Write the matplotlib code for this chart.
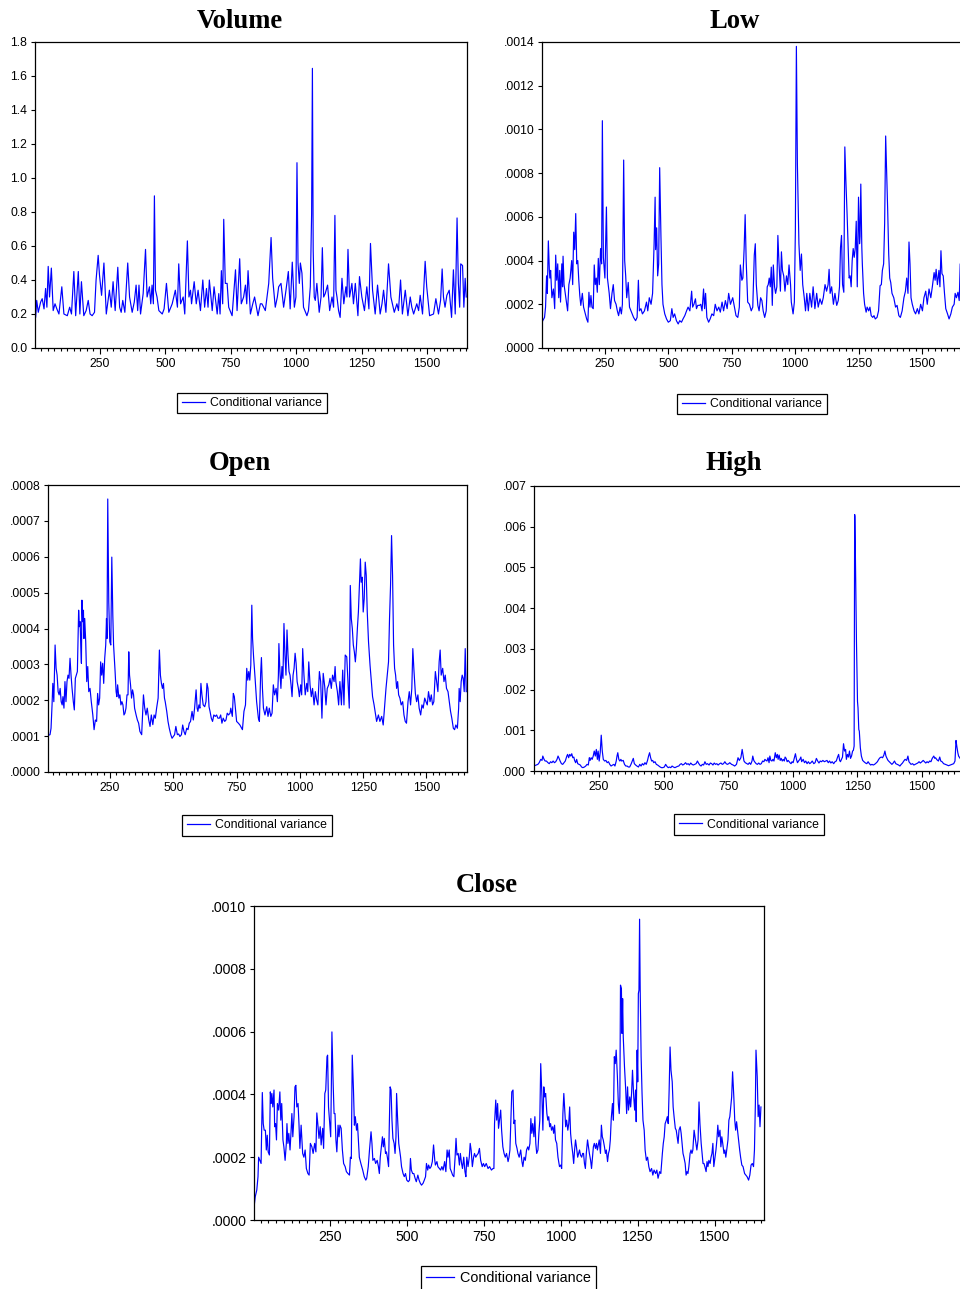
import matplotlib
matplotlib.use('Agg')
import matplotlib.pyplot as plt
import numpy as np
from matplotlib.ticker import FixedLocator, MultipleLocator, FuncFormatter

vol_t = [1, 4, 8, 14, 23, 29, 36, 42, 47, 52, 57, 64, 71, 78, 85, 93, 104, 112, 125, 134, 141, 150, 157, 167, 173,
         179, 188, 197, 205, 212, 220, 229, 235, 243, 248, 256, 265, 274, 280, 286, 293, 300, 308, 318, 325, 331, 337,
         345, 356, 363, 373, 381, 388, 394, 399, 405, 415, 424, 430, 439, 444, 449, 454, 458, 462, 468, 475, 488, 495,
         504, 513, 526, 538, 546, 551, 558, 568, 574, 584, 590, 596, 600, 610, 618, 625, 634, 643, 650, 657, 663, 668,
         679, 686, 698, 704, 709, 714, 719, 723, 729, 736, 742, 755, 768, 774, 784, 790, 799, 806, 811, 816, 825, 834,
         841, 854, 863, 869, 882, 895, 904, 910, 920, 928, 933, 942, 952, 961, 970, 977, 985, 993, 999, 1003, 1007,
         1012, 1016, 1022, 1028, 1041, 1047, 1054, 1059, 1062, 1065, 1069, 1073, 1079, 1088, 1095, 1100, 1105, 1111,
         1120, 1128, 1137, 1143, 1148, 1152, 1156, 1162, 1168, 1175, 1182, 1190, 1194, 1198, 1204, 1213, 1219, 1226,
         1236, 1242, 1251, 1261, 1270, 1278, 1284, 1292, 1302, 1311, 1321, 1328, 1334, 1343, 1353, 1362, 1375, 1385,
         1391, 1399, 1406, 1417, 1427, 1436, 1442, 1449, 1461, 1468, 1474, 1483, 1493, 1499, 1510, 1525, 1534, 1544,
         1552, 1558, 1563, 1569, 1576, 1585, 1594, 1601, 1608, 1615, 1620, 1625, 1629, 1636, 1641, 1646, 1650]
vol_v = [.22, .18, .28, .21, .27, .29, .23, .35, .24, .48, .30, .47, .22, .26, .23, .20, .36, .20, .19, .24, .20, .45,
         .19, .45, .20, .39, .19, .22, .28, .20, .19, .21, .40, .545, .43, .31, .50, .20, .27, .34, .24, .39, .22, .475,
         .24, .21, .28, .21, .50, .30, .21, .27, .37, .22, .37, .20, .32, .58, .30, .36, .26, .37, .26, .895, .34, .30,
         .22, .20, .23, .38, .21, .26, .34, .24, .495, .26, .30, .20, .63, .30, .34, .26, .39, .26, .34, .22, .40, .24,
         .35, .24, .40, .22, .36, .20, .32, .20, .455, .26, .757, .38, .38, .24, .19, .46, .22, .525, .26, .30, .37,
         .26, .455, .20, .26, .30, .19, .26, .26, .22, .38, .65, .41, .24, .30, .36, .38, .24, .34, .45, .23, .505,
         .24, .30, 1.09, .50, .38, .50, .44, .24, .19, .22, .36, .79, 1.645, .575, .30, .28, .38, .21, .30, .59, .30,
         .32, .37, .22, .30, .24, .78, .34, .30, .22, .18, .41, .26, .36, .30, .58, .30, .38, .26, .38, .19, .42, .30,
         .22, .36, .23, .615, .34, .20, .37, .20, .26, .34, .21, .495, .30, .21, .26, .22, .40, .20, .34, .19, .30,
         .24, .20, .26, .22, .31, .20, .51, .36, .19, .20, .29, .20, .28, .465, .30, .24, .31, .34, .18, .46, .20,
         .765, .38, .24, .495, .485, .24, .41, .30]

# Low, Open, High, Close values are in units of 1e-4
low_t = [0, 5, 12, 16, 20, 23, 27, 31, 33, 36, 41, 47, 52, 56, 60, 64, 68, 72, 75, 80, 83, 85, 89, 96, 103, 108, 113,
         119, 123, 127, 131, 135, 139, 143, 147, 151, 155, 161, 166, 173, 178, 183, 187, 191, 195, 199, 204, 208, 212,
         216, 220, 224, 228, 233, 237, 240, 244, 250, 256, 260, 267, 272, 278, 283, 288, 294, 299, 304, 310, 315, 319,
         324, 328, 332, 336, 342, 347, 355, 363, 371, 377, 382, 386, 392, 398, 406, 414, 419, 425, 432, 438, 444, 448,
         450, 454, 458, 462, 466, 471, 475, 479, 486, 493, 500, 508, 514, 519, 525, 532, 539, 545, 552, 558, 565, 572,
         578, 585, 592, 596, 601, 607, 611, 616, 623, 628, 633, 639, 643, 647, 652, 659, 665, 672, 679, 685, 692, 699,
         705, 712, 718, 725, 732, 738, 745, 754, 761, 767, 774, 780, 784, 790, 794, 799, 803, 807, 813, 820, 827, 833,
         839, 843, 847, 853, 858, 864, 869, 874, 880, 886, 890, 894, 898, 902, 906, 910, 914, 919, 923, 928, 932, 936,
         942, 946, 950, 955, 960, 966, 971, 976, 982, 985, 992, 997, 1001, 1005, 1009, 1015, 1020, 1025, 1030, 1036,
         1041, 1046, 1052, 1058, 1065, 1071, 1078, 1085, 1091, 1098, 1105, 1111, 1118, 1124, 1130, 1134, 1138, 1144,
         1151, 1157, 1164, 1170, 1175, 1179, 1183, 1187, 1192, 1196, 1200, 1205, 1209, 1213, 1217, 1221, 1225, 1229,
         1233, 1237, 1241, 1245, 1250, 1254, 1256, 1259, 1263, 1265, 1270, 1274, 1280, 1284, 1290, 1295, 1300, 1306,
         1311, 1316, 1323, 1329, 1335, 1340, 1344, 1349, 1353, 1357, 1361, 1365, 1369, 1373, 1377, 1382, 1389, 1396,
         1402, 1409, 1415, 1422, 1429, 1435, 1440, 1445, 1449, 1453, 1457, 1462, 1469, 1475, 1482, 1488, 1495, 1502,
         1508, 1515, 1521, 1528, 1535, 1541, 1548, 1552, 1556, 1561, 1567, 1571, 1575, 1579, 1584, 1589, 1594, 1601,
         1607, 1614, 1620, 1627, 1631, 1636, 1642, 1647, 1651, 1654]
low_v = [1.1, 1.25, 1.4, 1.87, 3.3, 2.5, 4.9, 3.55, 3.2, 3.55, 2.3, 2.7, 1.8, 4.25, 3.1, 3.85, 2.3, 3.55, 2.1, 3.85,
         2.8, 4.2, 2.9, 2.3, 1.7, 2.9, 3.2, 4.0, 2.9, 5.3, 4.5, 6.15, 3.85, 4.0, 3.1, 2.4, 1.95, 2.5, 1.87, 1.56, 1.33,
         1.18, 2.55, 1.87, 2.4, 1.87, 1.8, 3.8, 2.9, 3.2, 2.55, 4.1, 2.9, 4.55, 3.85, 10.4, 4.15, 3.2, 6.45, 3.2, 2.5,
         1.8, 2.5, 2.9, 2.17, 2.0, 1.7, 1.48, 1.87, 1.56, 2.0, 8.6, 4.0, 3.3, 2.3, 3.0, 1.87, 1.64, 1.4, 1.25, 1.4, 3.1,
         1.7, 1.8, 1.56, 1.7, 2.1, 1.7, 2.3, 2.0, 2.5, 4.77, 6.9, 4.5, 5.5, 3.3, 3.85, 8.25, 5.1, 2.9, 2.0, 1.56, 1.33,
         1.18, 1.25, 1.8, 1.4, 1.56, 1.25, 1.1, 1.25, 1.18, 1.33, 1.48, 1.7, 1.87, 1.7, 2.6, 1.87, 2.0, 2.25, 1.8, 1.95,
         1.95, 2.0, 1.7, 2.7, 1.8, 2.5, 1.4, 1.18, 1.33, 1.56, 1.48, 2.0, 1.7, 1.87, 1.64, 2.1, 1.7, 2.17, 1.8, 2.5,
         2.0, 2.3, 1.87, 1.48, 1.4, 1.87, 3.8, 3.1, 3.2, 4.55, 6.1, 4.0, 2.1, 2.0, 1.7, 1.87, 4.25, 4.77, 2.9, 1.95,
         1.7, 2.3, 2.17, 1.7, 1.4, 1.7, 2.8, 2.9, 3.2, 2.8, 3.7, 1.95, 3.8, 2.8, 2.5, 2.8, 5.15, 4.0, 2.6, 4.4, 3.55,
         3.3, 2.6, 3.3, 2.9, 3.8, 2.9, 2.1, 1.56, 2.1, 5.4, 13.8, 8.4, 4.77, 3.55, 4.3, 2.9, 2.3, 1.7, 2.5, 1.7, 2.5,
         1.87, 2.8, 1.8, 2.5, 1.87, 2.25, 2.0, 2.3, 2.9, 2.6, 2.9, 3.6, 2.5, 2.8, 2.0, 2.5, 1.95, 2.17, 2.8, 4.6, 5.15,
         2.9, 2.55, 9.2, 7.7, 6.1, 4.6, 3.2, 3.3, 2.8, 4.0, 4.55, 4.15, 4.55, 5.8, 2.8, 6.9, 4.77, 5.1, 7.5, 4.6, 3.85,
         2.5, 2.0, 1.64, 1.87, 1.7, 1.87, 1.48, 1.4, 1.48, 1.33, 1.4, 1.7, 2.85, 2.9, 3.55, 3.85, 5.7, 9.7, 8.0, 6.3,
         4.3, 3.2, 3.0, 2.5, 2.3, 1.87, 1.95, 1.48, 1.4, 1.7, 2.3, 2.6, 3.2, 2.5, 4.85, 3.85, 2.3, 2.0, 1.7, 1.56, 1.8,
         1.56, 2.0, 1.7, 2.3, 2.6, 2.0, 2.7, 2.3, 2.8, 3.45, 3.1, 3.6, 2.9, 3.55, 2.8, 4.45, 3.4, 3.3, 2.5, 1.8, 1.56,
         1.33, 1.56, 1.87, 2.0, 2.5, 2.3, 2.55, 2.17, 3.85, 2.5]

open_t = [5, 13, 17, 21, 24, 28, 33, 37, 41, 45, 49, 53, 57, 61, 64, 68, 72, 76, 80, 84, 88, 92, 96, 100, 105, 109,
          113, 117, 121, 124, 126, 129, 132, 134, 137, 139, 142, 145, 147, 150, 154, 158, 162, 166, 171, 176, 182, 187,
          192, 197, 201, 205, 209, 213, 217, 221, 225, 229, 233, 236, 238, 241, 245, 249, 253, 257, 261, 264, 270, 274,
          277, 280, 285, 289, 293, 297, 301, 305, 309, 313, 317, 321, 324, 327, 331, 335, 339, 343, 347, 353, 358, 363,
          368, 375, 382, 387, 392, 397, 403, 408, 413, 419, 424, 429, 434, 440, 445, 449, 453, 457, 461, 465, 468, 474,
          479, 484, 490, 495, 500, 505, 510, 516, 521, 526, 532, 537, 542, 547, 553, 558, 563, 568, 574, 579, 584, 590,
          594, 597, 601, 605, 609, 613, 618, 624, 629, 633, 637, 641, 645, 650, 655, 660, 666, 671, 676, 682, 687, 692,
          697, 703, 708, 713, 718, 724, 727, 733, 737, 741, 745, 750, 757, 763, 773, 779, 785, 790, 794, 798, 802, 806,
          810, 813, 817, 823, 829, 836, 840, 845, 848, 852, 856, 862, 869, 874, 879, 885, 890, 895, 900, 906, 911, 915,
          917, 921, 925, 929, 933, 937, 941, 945, 949, 953, 957, 961, 965, 969, 973, 977, 981, 985, 989, 994, 998, 1003,
          1007, 1011, 1016, 1021, 1027, 1031, 1035, 1040, 1045, 1050, 1056, 1061, 1066, 1071, 1077, 1082, 1087, 1092,
          1098, 1103, 1108, 1114, 1119, 1124, 1129, 1135, 1139, 1142, 1148, 1153, 1158, 1164, 1169, 1174, 1179, 1185,
          1190, 1195, 1199, 1203, 1207, 1211, 1215, 1219, 1223, 1227, 1231, 1235, 1239, 1242, 1246, 1250, 1254, 1258,
          1262, 1266, 1271, 1277, 1282, 1287, 1293, 1298, 1303, 1310, 1316, 1323, 1329, 1336, 1340, 1345, 1350, 1354,
          1358, 1362, 1366, 1370, 1374, 1378, 1382, 1386, 1390, 1395, 1400, 1406, 1411, 1416, 1421, 1427, 1432, 1437,
          1442, 1446, 1450, 1456, 1461, 1466, 1471, 1477, 1482, 1487, 1493, 1498, 1503, 1508, 1514, 1519, 1524, 1529,
          1535, 1540, 1545, 1550, 1554, 1558, 1564, 1569, 1574, 1579, 1585, 1590, 1595, 1600, 1606, 1611, 1616, 1622,
          1627, 1629, 1633, 1637, 1641, 1645, 1649, 1653, 1657]
open_v = [1.02, 1.04, 1.22, 1.87, 2.47, 1.96, 3.54, 2.89, 2.7, 2.24, 2.15, 2.33, 1.96, 1.87, 2.1, 1.78, 2.52, 1.96,
          2.52, 2.7, 2.61, 3.17, 2.7, 2.33, 1.96, 1.73, 2.61, 2.7, 2.8, 3.91, 4.51, 4.05, 4.19, 3.63, 3.03, 4.79, 4.19,
          4.51, 3.72, 4.28, 3.63, 2.52, 2.94, 2.24, 2.33, 1.96, 1.59, 1.18, 1.45, 1.41, 2.19, 1.87, 2.06, 3.07, 2.7,
          3.03, 2.47, 3.17, 3.54, 4.28, 3.72, 7.61, 4.74, 3.63, 3.54, 5.99, 4.37, 3.54, 2.8, 2.24, 2.1, 2.43, 2.06,
          2.15, 1.87, 1.96, 1.87, 1.59, 1.64, 1.78, 2.15, 2.15, 3.35, 2.7, 2.43, 2.06, 2.29, 2.15, 1.78, 1.59, 1.45,
          1.36, 1.13, 1.04, 2.15, 1.78, 1.59, 1.78, 1.45, 1.27, 1.59, 1.32, 1.59, 1.5, 1.78, 2.06, 3.4, 2.7, 2.47, 2.33,
          2.47, 2.06, 1.96, 1.69, 1.41, 1.22, 1.04, 0.94, 0.99, 1.04, 1.27, 1.04, 1.06, 0.99, 1.04, 1.31, 1.13, 1.04,
          1.22, 1.18, 1.36, 1.41, 1.69, 1.45, 1.78, 2.29, 1.78, 1.69, 1.87, 1.78, 2.47, 2.15, 1.87, 1.82, 1.96, 2.47,
          2.33, 1.82, 1.69, 1.5, 1.41, 1.59, 1.55, 1.59, 1.5, 1.5, 1.59, 1.36, 1.5, 1.41, 1.45, 1.64, 1.59, 1.64, 1.78,
          1.55, 2.19, 2.1, 1.78, 1.41, 1.36, 1.31, 1.18, 1.69, 1.87, 2.89, 2.56, 2.8, 2.56, 2.98, 4.65, 3.72, 3.21, 2.61,
          1.96, 1.5, 1.41, 2.75, 3.19, 2.33, 1.78, 1.59, 1.82, 1.55, 1.78, 1.55, 1.64, 2.43, 2.15, 2.33, 1.96, 2.7,
          3.58, 2.8, 2.33, 2.94, 2.61, 4.14, 3.26, 2.7, 3.96, 3.26, 2.8, 2.7, 2.43, 2.1, 2.7, 2.89, 3.31, 3.03, 2.52,
          2.33, 2.1, 2.43, 2.15, 3.44, 2.7, 2.15, 2.47, 2.24, 3.07, 2.43, 2.1, 2.33, 1.87, 2.24, 2.01, 1.87, 2.8, 2.52,
          1.5, 2.75, 2.38, 1.87, 2.33, 2.43, 2.61, 2.33, 2.7, 2.52, 2.94, 2.52, 2.24, 1.87, 2.52, 1.87, 2.84, 1.87,
          3.26, 3.21, 2.52, 1.78, 5.2, 4.28, 4.0, 3.54, 3.35, 3.07, 3.44, 4.0, 4.46, 5.2, 5.94, 5.29, 5.43, 4.46, 4.83,
          5.85, 5.48, 4.46, 3.63, 2.98, 2.52, 2.1, 1.87, 1.64, 1.41, 1.59, 1.41, 1.55, 1.31, 1.96, 2.33, 2.7, 3.07,
          4.28, 5.2, 6.59, 5.48, 3.54, 2.89, 2.7, 2.33, 2.52, 2.15, 2.06, 1.87, 1.96, 1.59, 1.41, 1.36, 1.96, 2.24,
          1.87, 2.33, 3.44, 2.89, 2.19, 1.96, 2.15, 1.78, 1.59, 1.87, 1.78, 2.06, 1.96, 1.87, 2.24, 1.96, 2.15, 1.87,
          1.96, 2.8, 2.52, 2.24, 3.07, 3.4, 2.7, 2.89, 2.52, 2.7, 2.33, 2.24, 1.96, 1.69, 1.5, 1.22, 1.18, 1.31, 1.22,
          1.78, 2.33, 1.96, 2.52, 2.7, 2.61, 2.24, 3.44, 2.24]

high_t = [1, 8, 14, 19, 25, 30, 33, 38, 42, 47, 53, 58, 63, 68, 73, 78, 83, 88, 92, 96, 100, 105, 110, 115, 120, 126,
          129, 133, 137, 141, 145, 149, 153, 156, 160, 164, 168, 173, 178, 183, 188, 194, 199, 204, 209, 213, 216, 220,
          224, 228, 232, 236, 240, 244, 247, 251, 255, 259, 263, 267, 272, 277, 282, 287, 292, 297, 303, 308, 312, 317,
          320, 323, 327, 331, 335, 338, 344, 349, 354, 359, 364, 369, 374, 379, 383, 387, 392, 397, 403, 408, 413, 418,
          423, 428, 433, 438, 442, 446, 450, 454, 458, 462, 467, 472, 477, 482, 487, 492, 497, 503, 508, 513, 518, 523,
          528, 533, 538, 544, 549, 554, 559, 564, 569, 574, 579, 585, 590, 595, 600, 605, 610, 615, 620, 626, 631, 635,
          640, 645, 650, 655, 660, 665, 670, 676, 681, 686, 691, 696, 701, 706, 711, 717, 722, 727, 732, 737, 742, 747,
          752, 756, 763, 769, 775, 782, 788, 793, 799, 804, 808, 811, 816, 822, 827, 832, 837, 842, 845, 849, 852, 858,
          863, 868, 873, 878, 883, 888, 892, 896, 900, 904, 908, 911, 915, 919, 923, 927, 932, 936, 940, 943, 947, 951,
          955, 959, 963, 967, 970, 974, 978, 982, 986, 990, 993, 997, 1001, 1006, 1010, 1014, 1018, 1022, 1027, 1031,
          1034, 1040, 1045, 1050, 1055, 1060, 1065, 1070, 1075, 1081, 1086, 1091, 1096, 1101, 1106, 1111, 1116, 1122,
          1127, 1132, 1137, 1142, 1147, 1152, 1158, 1163, 1168, 1173, 1177, 1181, 1184, 1188, 1192, 1196, 1200, 1204,
          1207, 1211, 1215, 1219, 1223, 1227, 1231, 1234, 1237, 1239, 1240, 1243, 1246, 1250, 1252, 1255, 1257, 1261,
          1265, 1270, 1275, 1281, 1286, 1291, 1296, 1301, 1306, 1311, 1316, 1322, 1327, 1332, 1337, 1342, 1347, 1352,
          1356, 1360, 1364, 1368, 1373, 1378, 1383, 1388, 1393, 1398, 1404, 1409, 1414, 1419, 1424, 1429, 1434, 1440,
          1445, 1449, 1452, 1457, 1463, 1468, 1473, 1478, 1483, 1488, 1493, 1499, 1504, 1509, 1514, 1519, 1524, 1529,
          1534, 1539, 1545, 1549, 1552, 1557, 1563, 1568, 1572, 1577, 1583, 1590, 1596, 1602, 1609, 1615, 1622, 1627,
          1631, 1634, 1638, 1641, 1648]
high_v = [1.3, 1.47, 1.63, 2.04, 2.86, 2.6, 3.67, 2.86, 2.45, 2.45, 2.04, 1.8, 2.28, 2.04, 2.45, 2.04, 2.28, 2.86,
          3.67, 3.1, 2.45, 1.8, 1.63, 2.04, 2.45, 3.67, 4.08, 3.26, 4.08, 3.67, 4.24, 3.26, 3.43, 2.6, 2.04, 2.86, 1.8,
          1.63, 1.47, 0.98, 0.82, 0.98, 1.22, 1.63, 1.47, 3.26, 2.6, 3.26, 2.86, 3.67, 4.9, 3.67, 5.3, 2.86, 4.9, 2.45,
          4.49, 8.8, 4.9, 2.86, 2.45, 2.6, 2.04, 2.28, 1.63, 1.22, 1.47, 1.63, 1.22, 2.45, 3.67, 4.49, 2.86, 2.45,
          2.86, 2.45, 2.6, 1.63, 1.22, 1.22, 0.98, 0.98, 1.63, 2.45, 3.1, 1.8, 1.47, 1.22, 0.98, 1.63, 1.22, 1.8, 1.47,
          2.04, 1.63, 2.6, 3.67, 4.49, 3.26, 2.45, 2.6, 2.04, 2.28, 1.63, 1.47, 1.22, 0.98, 0.82, 0.82, 0.98, 1.63,
          1.14, 0.82, 0.98, 0.82, 1.22, 0.98, 0.82, 0.98, 1.14, 1.22, 1.63, 1.8, 1.47, 1.63, 2.04, 1.63, 1.8, 1.47,
          1.96, 1.63, 1.47, 1.63, 1.8, 2.45, 1.96, 1.47, 1.22, 1.63, 1.47, 2.28, 1.63, 1.8, 1.47, 1.96, 1.8, 1.47,
          1.96, 1.63, 1.8, 1.47, 1.8, 1.96, 1.63, 1.8, 2.28, 1.8, 1.63, 1.8, 2.04, 1.63, 1.47, 1.22, 1.63, 3.26, 2.6,
          3.26, 5.3, 3.67, 2.45, 2.04, 1.8, 1.63, 2.04, 1.63, 2.45, 3.67, 2.6, 2.28, 1.8, 1.63, 1.96, 1.63, 1.8, 2.45,
          2.28, 2.86, 2.6, 2.45, 3.26, 2.04, 3.67, 2.6, 2.45, 2.86, 2.45, 4.49, 3.26, 4.08, 2.86, 3.92, 2.6, 3.1, 2.45,
          2.86, 2.45, 3.43, 3.1, 2.28, 2.6, 2.28, 1.96, 1.8, 2.28, 2.04, 3.26, 4.24, 2.86, 2.04, 2.45, 2.86, 3.43,
          2.28, 2.86, 2.04, 2.45, 1.8, 2.28, 1.8, 2.04, 2.45, 1.8, 2.04, 3.1, 2.45, 1.96, 2.45, 2.28, 2.6, 2.28, 2.45,
          2.6, 2.04, 2.45, 1.96, 2.28, 1.8, 2.28, 2.45, 3.43, 4.08, 2.6, 2.28, 2.86, 3.43, 6.7, 4.9, 5.3, 2.86, 4.08,
          3.43, 4.9, 3.1, 3.67, 4.9, 5.06, 6.12, 63.0, 62.5, 48.0, 31.8, 17.1, 15.5, 10.2, 9.8, 5.7, 3.67, 2.6, 2.28,
          1.96, 1.8, 2.28, 1.8, 1.47, 1.63, 1.47, 1.63, 1.96, 2.28, 2.86, 3.26, 3.43, 3.26, 3.92, 4.9, 3.67, 3.1, 2.6,
          2.28, 1.96, 1.63, 1.96, 2.45, 1.8, 1.63, 1.47, 1.22, 1.63, 1.96, 2.45, 2.86, 2.6, 3.67, 2.28, 2.04, 1.63,
          1.8, 1.47, 1.63, 1.8, 1.96, 2.28, 1.96, 2.28, 2.6, 2.28, 1.96, 2.28, 2.04, 2.45, 2.28, 3.1, 3.67, 3.1, 3.26,
          2.77, 2.45, 3.43, 2.45, 2.28, 1.8, 1.63, 1.47, 1.3, 1.47, 1.63, 1.8, 2.45, 7.5, 6.12, 4.49, 3.67, 3.0]

close_t = [4, 7, 12, 16, 18, 22, 26, 30, 33, 36, 40, 43, 46, 49, 53, 56, 59, 61, 64, 68, 70, 73, 76, 79, 83, 87, 90,
           93, 97, 100, 104, 108, 110, 113, 116, 120, 123, 126, 129, 133, 136, 139, 142, 146, 149, 152, 156, 161, 165,
           169, 173, 178, 182, 186, 191, 195, 200, 204, 207, 211, 214, 218, 221, 226, 229, 233, 236, 240, 242, 245,
           249, 252, 254, 256, 260, 263, 266, 269, 272, 276, 279, 282, 286, 290, 294, 299, 303, 308, 313, 316, 319,
           322, 326, 329, 332, 336, 339, 342, 345, 350, 353, 356, 361, 366, 369, 374, 378, 383, 386, 389, 394, 398,
           403, 407, 410, 413, 417, 420, 423, 426, 430, 433, 436, 440, 442, 445, 448, 451, 454, 458, 461, 464, 466,
           469, 473, 476, 479, 482, 487, 491, 495, 499, 504, 508, 511, 514, 518, 522, 526, 530, 535, 539, 543, 547,
           552, 556, 560, 563, 567, 570, 574, 578, 582, 586, 590, 592, 597, 600, 605, 609, 613, 617, 622, 626, 630,
           633, 637, 640, 644, 648, 652, 656, 659, 662, 666, 670, 673, 677, 680, 684, 688, 691, 694, 698, 702, 705,
           708, 712, 716, 719, 723, 727, 731, 735, 739, 744, 748, 752, 757, 763, 768, 774, 779, 782, 784, 788, 791,
           794, 797, 800, 804, 807, 811, 815, 819, 823, 828, 831, 834, 837, 840, 844, 847, 850, 853, 857, 860, 864,
           869, 873, 876, 880, 884, 888, 892, 895, 899, 902, 905, 908, 912, 915, 918, 921, 925, 928, 931, 934, 938,
           941, 944, 947, 950, 954, 957, 960, 963, 966, 969, 973, 976, 979, 982, 986, 990, 995, 999, 1002, 1006,
           1009, 1012, 1015, 1018, 1022, 1025, 1028, 1031, 1034, 1038, 1041, 1044, 1047, 1050, 1054, 1057, 1060,
           1063, 1067, 1070, 1073, 1076, 1079, 1082, 1086, 1089, 1092, 1096, 1099, 1102, 1105, 1108, 1112, 1115,
           1118, 1121, 1124, 1128, 1131, 1134, 1137, 1141, 1144, 1147, 1151, 1154, 1157, 1160, 1163, 1167, 1170,
           1173, 1176, 1179, 1183, 1186, 1189, 1191, 1193, 1196, 1198, 1200, 1202, 1206, 1210, 1213, 1216, 1219,
           1223, 1226, 1229, 1232, 1236, 1239, 1242, 1244, 1247, 1249, 1251, 1253, 1255, 1257, 1260, 1263, 1266,
           1270, 1273, 1277, 1281, 1285, 1289, 1294, 1298, 1302, 1307, 1311, 1315, 1320, 1324, 1329, 1332, 1335,
           1338, 1342, 1345, 1348, 1351, 1354, 1357, 1361, 1364, 1367, 1371, 1374, 1377, 1380, 1383, 1387, 1390,
           1393, 1396, 1399, 1403, 1406, 1409, 1412, 1415, 1419, 1422, 1425, 1428, 1432, 1435, 1438, 1441, 1445,
           1448, 1451, 1455, 1458, 1461, 1464, 1467, 1471, 1474, 1477, 1480, 1484, 1487, 1490, 1493, 1496, 1500,
           1503, 1506, 1509, 1512, 1516, 1519, 1522, 1525, 1529, 1532, 1535, 1538, 1542, 1545, 1548, 1551, 1554,
           1557, 1561, 1564, 1567, 1570, 1573, 1576, 1580, 1583, 1587, 1591, 1596, 1600, 1604, 1609, 1613, 1617,
           1621, 1625, 1628, 1631, 1633, 1637, 1640, 1643, 1646, 1649]
close_v = [0.48, 0.74, 0.95, 1.38, 2.0, 1.9, 1.8, 4.06, 3.07, 2.86, 2.86, 2.23, 2.7, 2.17, 2.07, 4.08, 3.71, 4.03,
           3.6, 4.14, 2.97, 3.07, 2.55, 3.71, 3.5, 4.08, 3.18, 3.71, 2.55, 2.33, 1.9, 2.44, 3.07, 2.44, 2.76, 2.23,
           2.76, 3.39, 2.65, 3.29, 4.24, 4.29, 3.6, 3.71, 3.07, 2.28, 3.02, 2.12, 2.0, 2.23, 1.64, 1.48, 1.43, 2.44,
           2.33, 2.12, 2.44, 2.17, 3.41, 2.97, 2.6, 2.97, 2.39, 2.92, 2.28, 4.03, 4.14, 5.2, 5.25, 3.6, 3.07, 2.65,
           4.14, 5.99, 4.35, 3.39, 3.39, 2.55, 2.17, 3.02, 2.65, 3.02, 2.92, 2.23, 1.8, 1.7, 1.54, 1.48, 1.43, 2.0,
           1.96, 5.25, 4.14, 3.02, 3.29, 2.86, 3.07, 2.55, 2.0, 1.8, 1.7, 1.59, 1.38, 1.27, 1.33, 1.7, 2.23, 2.81,
           2.44, 1.9, 1.96, 1.8, 1.9, 1.7, 1.48, 2.0, 2.39, 2.65, 2.33, 2.6, 2.12, 2.17, 2.0, 1.7, 2.86, 4.24, 4.14,
           3.18, 2.6, 2.44, 2.12, 2.65, 4.03, 3.29, 2.44, 2.23, 2.0, 1.7, 1.48, 1.38, 1.48, 1.27, 1.22, 1.27, 1.96,
           1.59, 1.48, 1.48, 1.33, 1.22, 1.43, 1.27, 1.17, 1.11, 1.17, 1.27, 1.38, 1.8, 1.59, 1.75, 1.64, 1.7, 1.86,
           2.39, 1.9, 1.75, 1.86, 1.7, 1.64, 1.59, 1.7, 1.59, 1.86, 1.54, 2.23, 2.0, 2.23, 1.64, 1.54, 1.43, 1.38,
           2.0, 2.6, 2.07, 2.12, 1.75, 2.12, 1.8, 1.64, 2.0, 1.54, 1.38, 2.0, 1.7, 2.0, 2.44, 2.23, 1.7, 2.0, 2.12,
           2.0, 2.07, 2.12, 2.28, 1.9, 1.7, 1.8, 1.7, 1.8, 1.64, 1.7, 1.59, 1.64, 1.64, 3.07, 3.82, 3.18, 3.71, 2.92,
           3.18, 3.5, 2.86, 2.33, 2.12, 2.0, 2.12, 1.86, 2.0, 2.23, 3.18, 4.08, 4.14, 3.07, 3.18, 2.44, 2.28, 2.12,
           2.0, 2.23, 1.86, 1.7, 2.0, 1.9, 2.23, 2.33, 2.23, 2.44, 3.23, 2.76, 3.07, 2.65, 3.29, 2.44, 2.12, 2.23,
           2.76, 3.18, 4.98, 3.92, 2.86, 4.24, 3.92, 4.03, 3.39, 3.18, 3.29, 2.97, 3.07, 2.86, 2.97, 2.76, 3.02, 2.55,
           2.44, 2.0, 1.7, 1.75, 1.64, 3.39, 4.03, 3.5, 2.97, 3.18, 2.86, 3.07, 3.6, 2.76, 2.44, 2.12, 1.8, 2.23,
           2.55, 2.33, 2.0, 2.12, 2.23, 2.07, 2.0, 2.12, 2.12, 1.8, 1.64, 2.12, 2.55, 2.33, 2.12, 1.9, 1.64, 2.0,
           2.33, 2.44, 2.28, 2.44, 2.23, 2.39, 2.55, 2.12, 3.02, 2.65, 2.55, 2.33, 2.12, 2.23, 1.86, 2.12, 2.23, 2.55,
           3.23, 3.71, 3.18, 5.2, 4.98, 5.41, 4.56, 3.71, 3.39, 3.92, 7.48, 7.37, 5.94, 7.05, 5.83, 4.88, 4.14, 3.39,
           4.24, 3.5, 3.92, 3.6, 4.03, 4.77, 3.92, 3.5, 4.14, 3.13, 5.41, 4.4, 7.21, 7.32, 9.58, 7.32, 5.2, 4.03,
           3.18, 2.86, 2.23, 1.9, 2.0, 1.7, 1.54, 1.64, 1.43, 1.59, 1.48, 1.59, 1.33, 1.54, 1.48, 2.12, 2.44, 2.65,
           3.07, 3.18, 3.29, 3.07, 4.14, 5.51, 4.77, 4.4, 3.6, 3.29, 2.92, 2.86, 2.65, 2.44, 2.86, 2.97, 2.76, 2.44,
           2.12, 2.0, 1.8, 1.43, 1.54, 1.48, 1.7, 2.12, 2.23, 2.12, 2.23, 2.86, 2.65, 2.44, 2.23, 2.55, 3.76, 3.07,
           2.44, 2.12, 1.8, 1.8, 1.7, 1.54, 1.86, 1.7, 1.9, 1.8, 2.0, 2.12, 2.44, 1.7, 2.0, 2.23, 2.55, 3.02, 2.65,
           2.86, 2.33, 2.65, 2.44, 2.12, 2.23, 2.0, 2.23, 2.55, 3.18, 3.29, 3.6, 3.92, 4.72, 3.92, 3.18, 2.86, 3.13,
           2.86, 2.6, 2.23, 2.0, 1.75, 1.7, 1.48, 1.43, 1.38, 1.27, 1.43, 1.75, 1.8, 1.7, 2.23, 3.71, 5.41, 4.56,
           3.29, 3.66, 2.97, 3.6]

SCALE = 1e-4
LINE_COLOR = '#0000FF'
W, H = 960, 1289


def frac_rect(left, top, right, bottom):
    """pixel box -> figure fraction rect"""
    return [left / W, 1 - bottom / H, (right - left) / W, (bottom - top) / H]


def strip_zero(decimals):
    return FuncFormatter(lambda y, pos: ('{:.%df}' % decimals).format(y).lstrip('0') if y >= 0 else '')


def make_panel(fig, rect, t, v, xlim, ylim, ystep, yfmt, title, title_xy, leg_xy, fs, leg_fs):
    ax = fig.add_axes(rect)
    line, = ax.plot(t, v, color=LINE_COLOR, lw=0.85)
    ax.set_xlim(*xlim)
    ax.set_ylim(*ylim)
    ax.yaxis.set_major_locator(MultipleLocator(ystep))
    ax.yaxis.set_major_formatter(yfmt)
    ax.xaxis.set_major_locator(FixedLocator([250, 500, 750, 1000, 1250, 1500]))
    ax.xaxis.set_minor_locator(MultipleLocator(25))
    ax.xaxis.set_major_formatter(FuncFormatter(lambda x, pos: '%d' % x))
    for s in ax.spines.values():
        s.set_linewidth(0.9)
    ax.tick_params(axis='both', which='both', direction='out', top=False, right=False,
                   labelsize=fs, width=0.8)
    ax.tick_params(axis='y', length=3, pad=2.5)
    ax.tick_params(axis='x', which='major', length=4, pad=3)
    ax.tick_params(axis='x', which='minor', length=2)
    for lab in ax.get_xticklabels() + ax.get_yticklabels():
        lab.set_fontfamily('Liberation Sans')
    fig.text(title_xy[0] / W, 1 - title_xy[1] / H, title, ha='center', va='baseline',
             fontsize=19.2, fontweight='bold', family='Liberation Serif')
    leg = ax.legend([line], ['Conditional variance'], loc='center',
                    bbox_to_anchor=(leg_xy[0] / W, 1 - leg_xy[1] / H), bbox_transform=fig.transFigure,
                    prop={'family': 'Liberation Sans', 'size': leg_fs},
                    fancybox=False, edgecolor='black', framealpha=1,
                    borderpad=0.35, handlelength=1.9, handletextpad=0.45)
    leg.get_frame().set_linewidth(0.9)
    leg.get_lines()[0].set_linewidth(0.9)
    return ax


fig = plt.figure(figsize=(W / 100, H / 100), dpi=100)
fig.patch.set_facecolor('white')

make_panel(fig, frac_rect(35, 42, 467, 348), vol_t, vol_v, (1.5, 1653), (0, 1.8), 0.2,
           FuncFormatter(lambda y, pos: '%.1f' % y), 'Volume', (240, 28), (252, 403), 8.7, 8.8)
make_panel(fig, frac_rect(542, 42, 962, 348), low_t, np.array(low_v) * SCALE, (2, 1658), (0, 0.0014), 0.0002,
           strip_zero(4), 'Low', (735, 28), (752, 404), 8.7, 8.8)
make_panel(fig, frac_rect(48, 485, 467, 772), open_t, np.array(open_v) * SCALE, (5, 1660), (0, 0.0008), 0.0001,
           strip_zero(4), 'Open', (240, 470), (257, 825.5), 8.7, 8.8)
make_panel(fig, frac_rect(534, 486, 963, 771), high_t, np.array(high_v) * SCALE, (-1, 1658), (0, 0.007), 0.001,
           strip_zero(3), 'High', (734, 470), (749, 824.5), 8.7, 8.8)
make_panel(fig, frac_rect(254, 906, 764, 1220), close_t, np.array(close_v) * SCALE, (3, 1659), (0, 0.001), 0.0002,
           strip_zero(4), 'Close', (487, 892), (508.5, 1278), 10.2, 10.4)

fig.savefig('out.png', dpi=100, facecolor='white')
